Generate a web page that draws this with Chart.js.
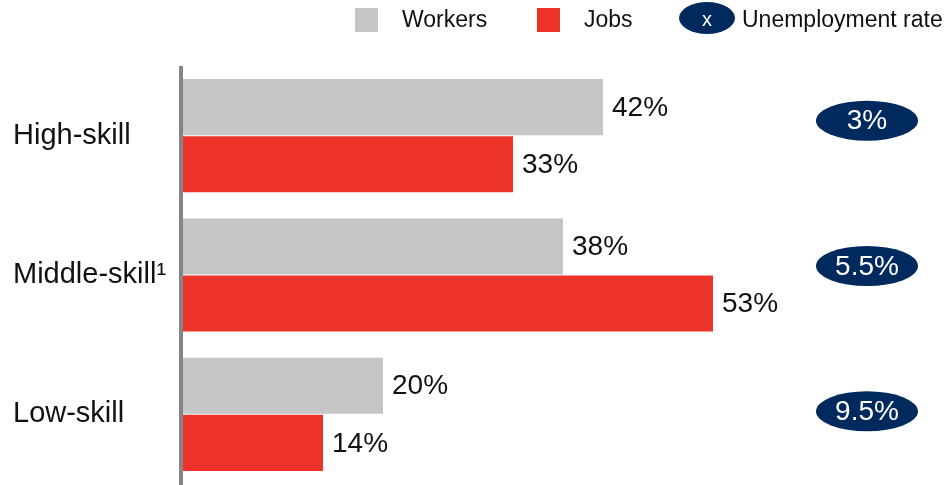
<!DOCTYPE html>
<html>
<head>
<meta charset="utf-8">
<script src="https://cdn.jsdelivr.net/npm/chart.js@4.4.1/dist/chart.umd.min.js"></script>
<style>
  html, body { margin: 0; padding: 0; background: #fff; }
  #wrap { width: 947px; height: 485px; position: relative; }
</style>
</head>
<body>
<div id="wrap"><canvas id="c"></canvas></div>
<script>
const categories = ['High-skill', 'Middle-skill\u00B9', 'Low-skill'];
const workers = [42, 38, 20];
const jobs = [33, 53, 14];
const unemployment = ['3%', '5.5%', '9.5%'];
const seriesNames = ['Workers', 'Jobs', 'Unemployment rate'];

const GRAY = '#C6C6C6';
const RED = '#EE342A';
const NAVY = '#002A5E';
const FONT = '"Liberation Sans", Arial, sans-serif';

const overlay = {
  id: 'overlay',
  afterDatasetsDraw(chart) {
    const ctx = chart.ctx;
    const ca = chart.chartArea;
    const ys = chart.scales.y;
    ctx.save();
    // axis line
    ctx.strokeStyle = '#858585';
    ctx.lineWidth = 4;
    ctx.beginPath();
    ctx.moveTo(ca.left - 2, ca.top);
    ctx.lineTo(ca.left - 2, chart.height);
    ctx.stroke();

    // value labels
    ctx.font = '28px ' + FONT;
    ctx.fillStyle = '#111';
    ctx.textAlign = 'left';
    ctx.textBaseline = 'middle';
    chart.data.datasets.forEach((ds, di) => {
      const meta = chart.getDatasetMeta(di);
      meta.data.forEach((bar, i) => {
        ctx.fillText(ds.data[i] + '%', bar.x + 9, bar.y + 1);
      });
    });

    // unemployment ellipses
    const cx = chart.width - 80;
    unemployment.forEach((u, i) => {
      const cy = ys.getPixelForValue(i) - 15 + 6 * i;
      ctx.fillStyle = NAVY;
      ctx.beginPath();
      ctx.ellipse(cx, cy, 51, 20, 0, 0, Math.PI * 2);
      ctx.fill();
      ctx.fillStyle = '#fff';
      ctx.textAlign = 'center';
      ctx.fillText(u, cx, cy + 1);
    });

    // legend
    ctx.textAlign = 'left';
    ctx.font = '23px ' + FONT;
    ctx.fillStyle = GRAY;
    ctx.fillRect(355, 8, 23, 24);
    ctx.fillStyle = RED;
    ctx.fillRect(537, 8, 23, 24);
    ctx.fillStyle = '#111';
    ctx.fillText(seriesNames[0], 402, 21);
    ctx.fillText(seriesNames[1], 584, 21);
    ctx.fillStyle = NAVY;
    ctx.beginPath();
    ctx.ellipse(707, 18, 28, 16, 0, 0, Math.PI * 2);
    ctx.fill();
    ctx.fillStyle = '#fff';
    ctx.textAlign = 'center';
    ctx.font = '20px ' + FONT;
    ctx.fillText('x', 707, 20);
    ctx.fillStyle = '#111';
    ctx.textAlign = 'left';
    ctx.font = '23px ' + FONT;
    ctx.fillText(seriesNames[2], 742, 21);
    ctx.restore();
  }
};

new Chart(document.getElementById('c'), {
  type: 'bar',
  data: {
    labels: categories,
    datasets: [
      { label: seriesNames[0], data: workers, backgroundColor: GRAY },
      { label: seriesNames[1], data: jobs, backgroundColor: RED }
    ]
  },
  options: {
    indexAxis: 'y',
    responsive: true,
    maintainAspectRatio: false,
    animation: false,
    events: [],
    categoryPercentage: 0.82,
    barPercentage: 0.982,
    layout: { padding: { top: 66, bottom: 1, left: 13, right: 164 } },
    plugins: { legend: { display: false }, tooltip: { enabled: false } },
    scales: {
      x: { display: false, min: 0, max: 60 },
      y: {
        grid: { display: false, drawTicks: false },
        border: { display: false },
        ticks: {
          crossAlign: 'far',
          color: '#111',
          padding: 0,
          font: { family: FONT, size: 29 }
        },
        afterFit(scale) {
          scale.width = 170;
          scale.paddingTop = 0;
          scale.paddingBottom = 0;
        }
      }
    }
  },
  plugins: [overlay]
});
</script>
</body>
</html>
